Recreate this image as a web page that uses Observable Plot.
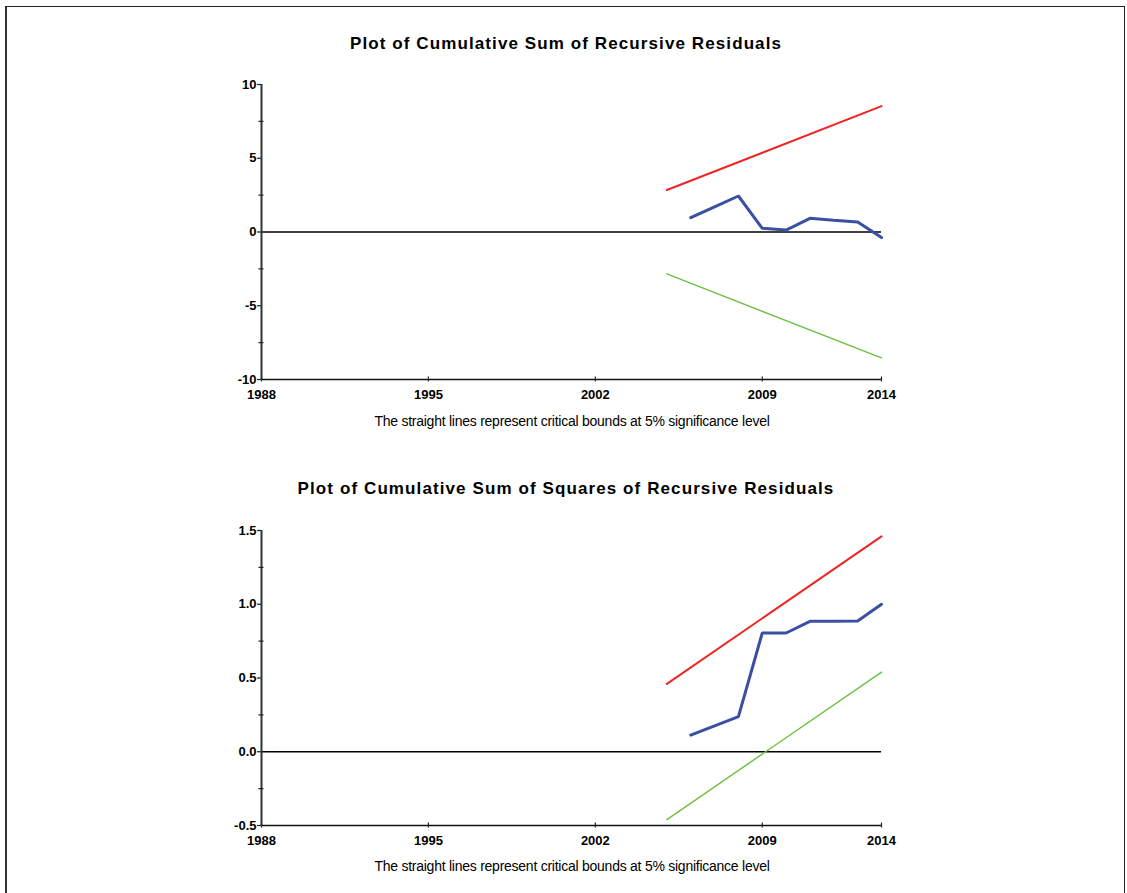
<!DOCTYPE html>
<html>
<head>
<meta charset="utf-8">
<script src="https://cdn.jsdelivr.net/npm/d3@7"></script>
<script src="https://cdn.jsdelivr.net/npm/@observablehq/plot@0.6"></script>
<style>
  html, body { margin: 0; padding: 0; background: #fff; }
  #page { position: relative; width: 1127px; height: 893px; overflow: hidden; font-family: "Liberation Sans", Arial, sans-serif; }
  #frame { position: absolute; left: 5px; top: 6px; width: 1117px; height: 910px; border-left: 2px solid #333; border-top: 1px solid #222; border-right: 1px solid #222; }
  .title { position: absolute; left: 0; width: 1132px; text-align: center; font-weight: bold; font-size: 17px; line-height: 20px; letter-spacing: 1.1px; color: #000; }
  .caption { position: absolute; left: 0; width: 1144px; text-align: center; font-size: 14px; line-height: 16px; letter-spacing: -0.25px; color: #000; }
  .chart { position: absolute; left: 0; }
</style>
</head>
<body>
<div id="page">
  <div id="frame"></div>
  <div class="title" style="top:34px">Plot of Cumulative Sum of Recursive Residuals</div>
  <div class="chart" id="c1" style="top:70px"></div>
  <div class="caption" style="top:413px">The straight lines represent critical bounds at 5% significance level</div>
  <div class="title" style="top:479px">Plot of Cumulative Sum of Squares of Recursive Residuals</div>
  <div class="chart" id="c2" style="top:516px"></div>
  <div class="caption" style="top:858px">The straight lines represent critical bounds at 5% significance level</div>
</div>
<script>
// ---- data ----
const years = [2006, 2007, 2008, 2009, 2010, 2011, 2012, 2013, 2014];
const cusum = [0.97, 1.70, 2.44, 0.25, 0.13, 0.93, 0.80, 0.68, -0.38];
const cusumsq = [0.113, 0.175, 0.238, 0.805, 0.805, 0.884, 0.884, 0.886, 1.0];
const boundYears = [2005, 2014];
const cusumUpper = [2.844, 8.532];
const cusumLower = [-2.844, -8.532];
const sqUpper = [0.46, 1.46];
const sqLower = [-0.46, 0.54];
const xTicks = [1988, 1995, 2002, 2009, 2014];
const cusumTicks = [-10, -5, 0, 5, 10];
const cusumMinor = [-7.5, -2.5, 2.5, 7.5];
const sqTicks = [-0.5, 0.0, 0.5, 1.0, 1.5];
const sqMinor = [-0.25, 0.25, 0.75, 1.25];

const BLUE = "#3b4fa3", RED = "#f02424", GREEN = "#6cc040";

function panel({values, upper, lower, yDomain, yTicks, yMinor, fmt}) {
  const series = years.map((x, i) => ({x, y: values[i]}));
  const up = boundYears.map((x, i) => ({x, y: upper[i]}));
  const lo = boundYears.map((x, i) => ({x, y: lower[i]}));
  return Plot.plot({
    width: 1127,
    height: 340,
    marginLeft: 261,
    marginRight: 246,
    marginTop: 14,
    marginBottom: 31,
    x: {domain: [1988, 2014], label: null},
    y: {domain: yDomain, label: null},
    style: {fontFamily: "'Liberation Sans', Arial, sans-serif", background: "transparent", color: "#000", overflow: "visible"},
    marks: [
      Plot.ruleY([0], {stroke: "#000", strokeWidth: 1.5}),
      Plot.ruleY([yDomain[0]], {stroke: "#111", strokeWidth: 1.6}),
      Plot.axisX({ticks: xTicks, tickSize: 5, dy: -2.5, text: null, label: null, stroke: "#222", strokeWidth: 1.2}),
      Plot.axisX({ticks: xTicks, tickSize: 0, tickPadding: 10, tickFormat: d => String(d), fontSize: 13, fontWeight: "bold", label: null}),
      Plot.ruleX([1988], {stroke: "#333", strokeWidth: 2}),
      Plot.axisY({ticks: yTicks, tickSize: 4, tickPadding: 1, tickFormat: fmt, fontSize: 13, fontWeight: "bold", label: null, stroke: "#222", strokeWidth: 1.2}),
      Plot.axisY({ticks: yMinor, tickSize: 5, dx: 2.5, text: null, label: null, stroke: "#222", strokeWidth: 1.2}),
      Plot.line(up, {x: "x", y: "y", stroke: RED, strokeWidth: 2}),
      Plot.line(lo, {x: "x", y: "y", stroke: GREEN, strokeWidth: 1.4}),
      Plot.line(series, {x: "x", y: "y", stroke: BLUE, strokeWidth: 3, strokeLinejoin: "miter"})
    ]
  });
}

document.getElementById("c1").appendChild(panel({
  values: cusum, upper: cusumUpper, lower: cusumLower,
  yDomain: [-10, 10], yTicks: cusumTicks, yMinor: cusumMinor,
  fmt: d => String(d)
}));
document.getElementById("c2").appendChild(panel({
  values: cusumsq, upper: sqUpper, lower: sqLower,
  yDomain: [-0.5, 1.5], yTicks: sqTicks, yMinor: sqMinor,
  fmt: d => d.toFixed(1)
}));
</script>
</body>
</html>
